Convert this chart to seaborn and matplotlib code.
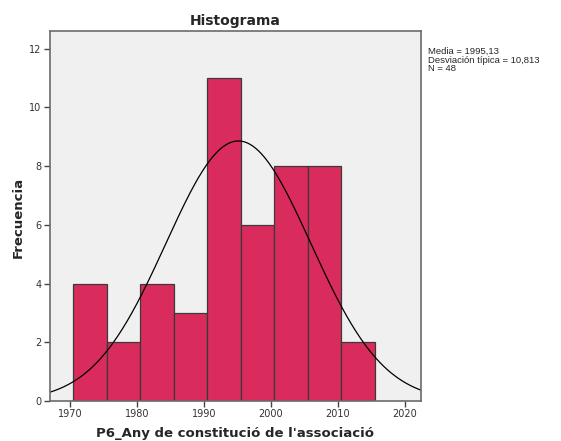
import numpy as np
import matplotlib
matplotlib.use("Agg")
import matplotlib.pyplot as plt
import seaborn as sns

# Data
bin_edges = [1970.5, 1975.5, 1980.5, 1985.5, 1990.5, 1995.5, 2000.5, 2005.5, 2010.5, 2015.5]
counts = [4, 2, 4, 3, 11, 6, 8, 8, 2]
mean_val = 1995.13
sd_val = 10.813
n_val = 48
x_ticks = [1970, 1980, 1990, 2000, 2010, 2020]
y_ticks = [0, 2, 4, 6, 8, 10, 12]

sns.set_style("white")
plt.rcParams['font.family'] = ['DejaVu Sans']

fig = plt.figure(figsize=(5.61, 4.41), dpi=100)
ax = fig.add_axes([50/561, 40/441, 371/561, 370/441])
ax.set_facecolor('#f0f0f0')

centers = [(bin_edges[i] + bin_edges[i+1]) / 2 for i in range(len(counts))]
sns.histplot(x=centers, weights=counts, bins=bin_edges, ax=ax,
             color='#d92b5c', alpha=1.0, edgecolor='#3a3a3a', linewidth=0.9)

binw = bin_edges[1] - bin_edges[0]
xs = np.linspace(1967, 2022.4, 400)
ys = n_val * binw / (sd_val * np.sqrt(2 * np.pi)) * np.exp(-0.5 * ((xs - mean_val) / sd_val) ** 2)
sns.lineplot(x=xs, y=ys, ax=ax, color='black', linewidth=0.9)

ax.set_xlim(1967, 2022.4)
ax.set_ylim(0, 12.6)
ax.set_xticks(x_ticks)
ax.set_yticks(y_ticks)
ax.tick_params(axis='both', direction='out', length=4, width=1, color='#444444',
               labelsize=7, labelcolor='#333333', pad=2, bottom=True, left=True)
for s in ax.spines.values():
    s.set_color('#6b6b6b')
    s.set_linewidth(1.2)

ax.set_title('Histograma', fontsize=10, fontweight='bold', pad=4)
ax.set_xlabel("P6_Any de constitució de l'associació", fontsize=9.5, fontweight='bold', va='center')
ax.set_ylabel('Frecuencia', fontsize=9.5, fontweight='bold', va='center')
ax.xaxis.set_label_coords((235 - 50) / 371, (401 - 434) / 370)
ax.yaxis.set_label_coords((18 - 50) / 371, (401 - 217) / 370)

fig.text(428/561, 1 - 47/441, 'Media = 1995,13\nDesviación típica = 10,813\nN = 48',
         fontsize=6.8, va='top', ha='left', linespacing=0.95, family='Liberation Sans')

fig.savefig('out.png', dpi=100)
